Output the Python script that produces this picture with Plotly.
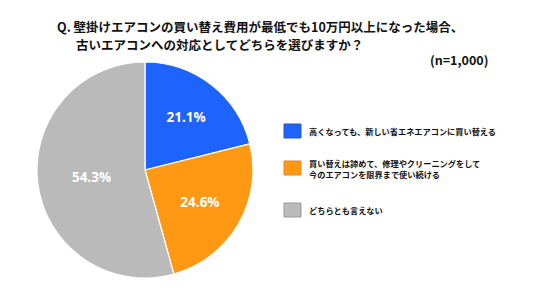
import plotly.graph_objects as go

categories = ["高くなっても、新しい省エネエアコンに買い替える",
              "買い替えは諦めて、修理やクリーニングをして<br>今のエアコンを限界まで使い続ける",
              "どちらとも言えない"]
values = [21.1, 24.6, 54.3]
colors = ["#1F63FF", "#FF9913", "#BABABA"]
border_colors = ["#2A55C8", "#D98A2A", "#9A9A9A"]
legend_y = [131, 168, 210]   # pixel rows of legend items
title_lines = ["Q. 壁掛けエアコンの買い替え費用が最低でも10万円以上になった場合、",
               "古いエアコンへの対応としてどちらを選びますか？"]

W, H = 536, 302
fig = go.Figure()
fig.add_trace(go.Pie(
    values=values, labels=categories, sort=False, direction="clockwise", rotation=0,
    marker=dict(colors=colors, line=dict(color="white", width=1.2)),
    texttemplate="%{value:.1f}%", textposition="inside", insidetextorientation="horizontal",
    textfont=dict(family="Open Sans", size=13.5, color="white", weight="bold"),
    domain=dict(x=[37/W, 253/W], y=[1-278/H, 1-62/H]),
    showlegend=False, hoverinfo="label+percent",
))

shapes, annots = [], []
for lab, c, bc, yy in zip(categories, colors, border_colors, legend_y):
    shapes.append(dict(type="rect", xref="paper", yref="paper",
                       x0=284/W, x1=301/W, y0=1-(yy+7)/H, y1=1-(yy-7)/H,
                       fillcolor=c, line=dict(color=bc, width=1)))
    annots.append(dict(text=lab, xref="paper", yref="paper", x=307/W, y=1-yy/H,
                       xanchor="left", yanchor="middle", align="left", showarrow=False,
                       font=dict(family="Noto Sans CJK JP", size=8.2, color="#111", weight="bold")))

for txt, x, y in zip(title_lines, [56, 75], [26, 45]):
    annots.append(dict(text=txt, xref="paper", yref="paper", x=x/W, y=1-y/H,
                       xanchor="left", yanchor="middle", align="left", showarrow=False,
                       borderpad=0,
                       font=dict(family="Noto Sans CJK JP", size=12.5, color="#111", weight="bold")))
annots.append(dict(text="(n=1,000)", xref="paper", yref="paper", x=490/W, y=1-59/H,
                   xanchor="right", yanchor="middle", showarrow=False,
                   font=dict(family="Noto Sans CJK JP", size=12.5, color="#111", weight="bold")))

fig.update_layout(width=W, height=H, margin=dict(l=0, r=0, t=0, b=0),
                  paper_bgcolor="white", plot_bgcolor="white",
                  shapes=shapes, annotations=annots)
fig.write_html("out.html")
